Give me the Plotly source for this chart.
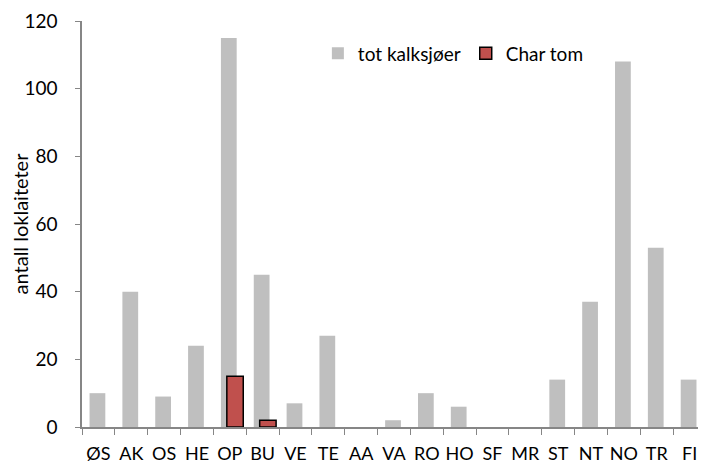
import plotly.graph_objects as go

categories = ["ØS", "AK", "OS", "HE", "OP", "BU", "VE", "TE", "AA", "VA",
              "RO", "HO", "SF", "MR", "ST", "NT", "NO", "TR", "FI"]
tot_kalksjoer = [10, 40, 9, 24, 115, 45, 7, 27, 0, 2, 10, 6, 0, 0, 14, 37, 108, 53, 14]
char_tom = [0, 0, 0, 0, 15, 2, 0, 0, 0, 0, 0, 0, 0, 0, 0, 0, 0, 0, 0]
y_ticks = [0, 20, 40, 60, 80, 100, 120]

font_family = "Lato, 'Open Sans', sans-serif"

fig = go.Figure()
fig.add_trace(go.Bar(
    x=categories, y=tot_kalksjoer, name="tot kalksjøer",
    marker=dict(color="#BFBFBF", line=dict(width=0)),
    width=0.48, offset=-0.27,
))
red_x = [c for c, v in zip(categories, char_tom) if v > 0]
red_y = [v for v in char_tom if v > 0]
fig.add_trace(go.Bar(
    x=red_x, y=red_y, name="Char tom",
    marker=dict(color="#C0504D", line=dict(width=1.5, color="#000000")),
    width=0.5, offset=-0.09,
))

fig.update_layout(
    width=698, height=455,
    margin=dict(l=74, r=0, t=13, b=36, autoexpand=False),
    barmode="overlay",
    plot_bgcolor="white", paper_bgcolor="white",
    font=dict(family=font_family, size=19, color="#000000"),
    showlegend=True,
    legend=dict(orientation="h", x=0.378, y=0.92, xanchor="left", yanchor="middle",
                font=dict(size=19), bgcolor="rgba(0,0,0,0)", itemwidth=30),
    xaxis=dict(
        type="category", categoryorder="array", categoryarray=categories,
        range=[-0.5, len(categories) - 0.5],
        showline=True, linecolor="#868686", linewidth=1.5,
        ticks="outside", tickson="boundaries", ticklen=6, tickcolor="#868686",
        showgrid=False, tickfont=dict(size=18), tickangle=0, automargin=False,
        ticklabelstandoff=10,
    ),
    yaxis=dict(
        range=[0, 120], tickvals=y_ticks,
        showline=True, linecolor="#868686", linewidth=1.5,
        ticks="outside", ticklen=5, tickcolor="#868686",
        showgrid=False, zeroline=False, tickfont=dict(size=19), automargin=False,
        ticklabelstandoff=14,
        title=dict(text="antall loklaiteter", font=dict(size=20), standoff=4),
    ),
)

fig.write_html("out.html")
